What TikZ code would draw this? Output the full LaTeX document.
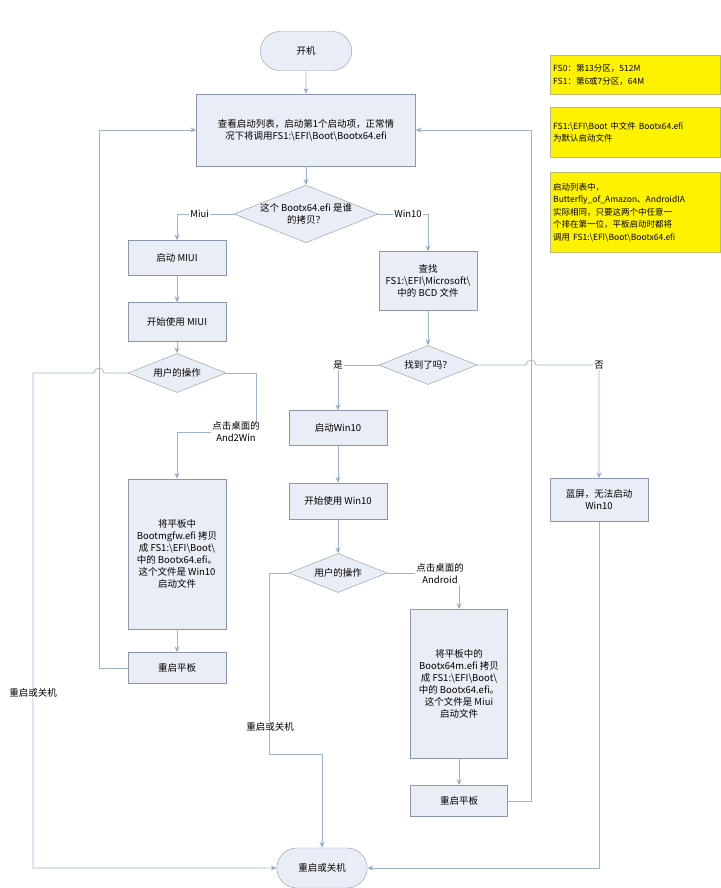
\documentclass[tikz,border=0pt]{standalone}
\usepackage{fontspec}
\setmainfont{Noto Sans CJK SC}
\usetikzlibrary{shapes.geometric,shapes.misc,arrows.meta}
\newcommand{\bsl}{\textbackslash{}}
\definecolor{bfill}{HTML}{E9EDF6}
\definecolor{bdraw}{HTML}{8A96AE}
\definecolor{lcol}{HTML}{9DB3CF}
\definecolor{acol}{HTML}{4F75A8}
\begin{document}
\begin{tikzpicture}[x=1pt,y=-1pt,font=\fontsize{9.5}{12}\selectfont,
  box/.style={draw=bdraw,fill=bfill,align=center,inner sep=2pt},
  dia/.style={diamond,draw=bdraw,fill=bfill,align=center,aspect=2.5,inner sep=0pt},
  term/.style={rounded rectangle,draw=bdraw,fill=bfill},
  note/.style={draw=bdraw!60!yellow,fill=yellow,align=left,anchor=north west,inner sep=3pt,text width=164pt,font=\fontsize{8.5}{12.5}\selectfont},
  ln/.style={draw=lcol,line width=0.7pt},
  ar/.style={ln,-{Stealth[length=6pt,width=5pt,fill=acol]}},
  lab/.style={fill=white,inner sep=1pt,align=center}]
\useasboundingbox (0,0) rectangle (720,888);
\fill[white] (0,0) rectangle (720,888);
% yellow notes
\node[note,minimum height=39pt] (n1) at (550,55) {FS0：第13分区，512M\\FS1：第6或7分区，64M};
\node[note,minimum height=50pt] (n2) at (550,107) {FS1:\bsl EFI\bsl Boot 中文件 Bootx64.efi\\为默认启动文件};
\node[note,minimum height=80pt] (n3) at (550,172) {启动列表中，\\Butterfly\_of\_Amazon、AndroidIA\\实际相同，只要这两个中任意一\\个排在第一位，平板启动时都将\\调用 FS1:\bsl EFI\bsl Boot\bsl Bootx64.efi};
% main nodes
\node[term,minimum width=98pt,minimum height=39pt] (start) at (306,51) {开机};
\node[box,minimum width=219pt,minimum height=72pt] (list) at (306,130) {查看启动列表，启动第1个启动项，正常情\\况下将调用FS1:\bsl EFI\bsl Boot\bsl Bootx64.efi};
\node[dia,minimum width=141pt,minimum height=57pt] (who) at (306,214) {这个 Bootx64.efi 是谁\\的拷贝？};
\node[box,minimum width=98pt,minimum height=35pt] (miui) at (177,258) {启动 MIUI};
\node[box,minimum width=98pt,minimum height=39pt] (usemiui) at (177,322) {开始使用 MIUI};
\node[dia,minimum width=98pt,minimum height=39pt] (op1) at (177,373) {用户的操作};
\node[box,minimum width=98pt,minimum height=150pt] (cpw) at (177,554) {将平板中\\Bootmgfw.efi 拷贝\\成 FS1:\bsl EFI\bsl Boot\bsl\\中的 Bootx64.efi。\\这个文件是 Win10\\启动文件};
\node[box,minimum width=98pt,minimum height=31pt] (rb1) at (177,668) {重启平板};
\node[box,minimum width=98pt,minimum height=59pt] (find) at (428,281) {查找\\FS1:\bsl EFI\bsl Microsoft\bsl\\中的 BCD 文件};
\node[dia,minimum width=98pt,minimum height=39pt] (found) at (428,365) {找到了吗？};
\node[box,minimum width=98pt,minimum height=35pt] (win) at (338,428) {启动Win10};
\node[box,minimum width=98pt,minimum height=36pt] (usewin) at (338,501) {开始使用 Win10};
\node[dia,minimum width=98pt,minimum height=39pt] (op2) at (338,573) {用户的操作};
\node[box,minimum width=97pt,minimum height=149pt] (cpm) at (459,684) {将平板中的\\Bootx64m.efi 拷贝\\成 FS1:\bsl EFI\bsl Boot\bsl\\中的 Bootx64.efi。\\这个文件是 Miui\\启动文件};
\node[box,minimum width=97pt,minimum height=31pt] (rb2) at (459,801) {重启平板};
\node[box,minimum width=98pt,minimum height=43pt] (blue) at (599,500) {蓝屏，无法启动\\Win10};
\node[term,minimum width=97pt,minimum height=40pt] (end) at (322,868) {重启或关机};
% connectors
\draw[ar] (start) -- (list);
\draw[ar] (list) -- (who);
\draw[ar] (who.west) -| node[lab,pos=0.3]{Miui} (miui.north);
\draw[ar] (miui) -- (usemiui);
\draw[ar] (usemiui) -- (op1);
\coordinate (c1) at (256,432);
\draw[ar] (op1.east) -| (c1) -| (cpw.north);
\node[lab] at (236,432) {点击桌面的\\And2Win};
\draw[ar] (cpw) -- (rb1);
\draw[ar] (rb1.west) -| (99,130) -- (list.west);
\draw[ar] (who.east) -| node[lab,pos=0.3]{Win10} (find.north);
\draw[ar] (find) -- (found);
\draw[ar] (found.west) -| node[lab,pos=0.5]{是} (win.north);
\draw[ar] (win) -- (usewin);
\draw[ar] (usewin) -- (op2);
\draw[ar] (op2.east) -| (cpm.north);
\node[lab] at (440,574) {点击桌面的\\Android};
\draw[ar] (cpm) -- (rb2);
\draw[ar] (rb2.east) -| (531,130) -- (list.east);
\draw[ar] (found.east) -- (526,365) arc[start angle=180,end angle=0,radius=5pt] -| node[lab,pos=0.5]{否} (blue.north);
\draw[ar] (blue.south) |- (end.east);
\coordinate (c3) at (33,868);
\draw[ar] (op1.west) -- (104,373) arc[start angle=0,end angle=180,radius=5pt] -| (c3) -- (end.west);
\node[lab] at (33,693) {重启或关机};
\coordinate (c2) at (269,754);
\draw[ar] (op2.west) -| (c2) -| (end.north);
\node[lab] at (270,727) {重启或关机};
\end{tikzpicture}
\end{document}
